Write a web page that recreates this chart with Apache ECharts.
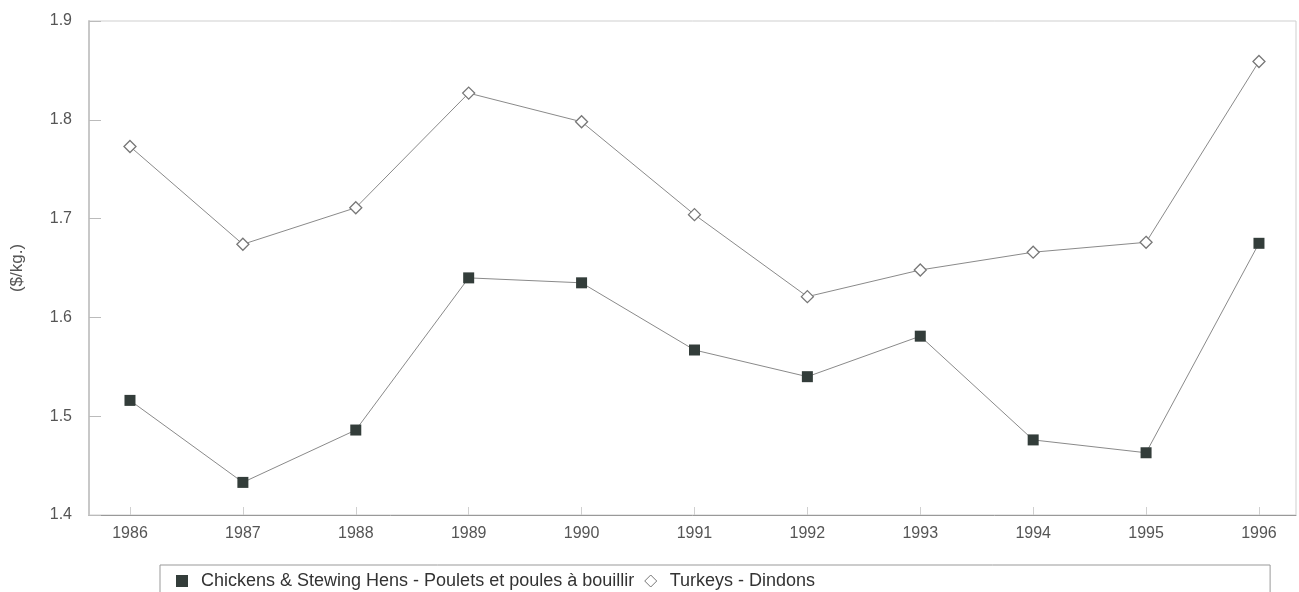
<!DOCTYPE html>
<html>
<head>
<meta charset="utf-8">
<script src="https://cdn.jsdelivr.net/npm/echarts@6/dist/echarts.min.js"></script>
<style>html,body{margin:0;padding:0;background:#fff}#c{width:1299px;height:592px}</style>
</head>
<body>
<div id="c"></div>
<script>
const years = [1986, 1987, 1988, 1989, 1990, 1991, 1992, 1993, 1994, 1995, 1996];
const chickens = [1.516, 1.433, 1.486, 1.640, 1.635, 1.567, 1.540, 1.581, 1.476, 1.463, 1.675];
const turkeys = [1.773, 1.674, 1.711, 1.827, 1.798, 1.704, 1.621, 1.648, 1.666, 1.676, 1.859];
const yTicks = [1.4, 1.5, 1.6, 1.7, 1.8, 1.9];
const chickenName = 'Chickens & Stewing Hens - Poulets et poules à bouillir';
const turkeyName = 'Turkeys - Dindons';
const yName = '($/kg.)';

const chart = echarts.init(document.getElementById('c'));
const font = 'Liberation Sans, Arial, sans-serif';
chart.setOption({
  animation: false,
  backgroundColor: '#fff',
  textStyle: { fontFamily: font },
  grid: { left: 89, right: 3, top: 21, bottom: 77, show: true, borderColor: '#cfcfcf', borderWidth: 1, outerBoundsMode: 'none', containLabel: false },
  legend: {
    left: 160, top: 565,
    padding: [7, 455, 30, 16],
    borderColor: '#999', borderWidth: 1,
    itemGap: 10, itemWidth: 12, itemHeight: 12,
    textStyle: { fontSize: 18, color: '#333', fontFamily: font, padding: [0, 0, 0, 8] },
    data: [
      { name: chickenName, icon: 'rect', itemStyle: { color: '#333d3a' } },
      { name: turkeyName, icon: 'diamond', itemStyle: { color: '#fff', borderColor: '#777', borderWidth: 1 } }
    ]
  },
  xAxis: {
    type: 'value',
    min: 1985.637, max: 1996.328,
    axisLine: { show: true, lineStyle: { color: '#999', width: 1 } },
    axisTick: { show: true, inside: true, length: 8, customValues: years, lineStyle: { color: '#d0d0d0' } },
    axisLabel: { customValues: years, formatter: v => String(v), color: '#555', fontSize: 16, margin: 11 },
    splitLine: { show: false }
  },
  yAxis: {
    type: 'value',
    min: 1.4, max: 1.9, interval: 0.1,
    name: yName, nameLocation: 'middle', nameGap: 63,
    nameTextStyle: { color: '#555', fontSize: 17 },
    axisLine: { show: true, lineStyle: { color: '#c8c8c8', width: 2 } },
    axisTick: { show: true, inside: true, length: 12, lineStyle: { color: '#bbb' } },
    axisLabel: { formatter: v => v.toFixed(1), color: '#555', fontSize: 16, margin: 17 },
    splitLine: { show: false }
  },
  series: [
    {
      name: chickenName, type: 'line',
      data: years.map((y, i) => [y, chickens[i]]),
      symbol: 'rect', symbolSize: 11,
      itemStyle: { color: '#333d3a' },
      lineStyle: { color: '#8a8a8a', width: 1 }
    },
    {
      name: turkeyName, type: 'line',
      data: years.map((y, i) => [y, turkeys[i]]),
      symbol: 'diamond', symbolSize: 12,
      itemStyle: { color: '#fff', borderColor: '#777', borderWidth: 1.3 },
      lineStyle: { color: '#8a8a8a', width: 1 }
    }
  ]
});
</script>
</body>
</html>
